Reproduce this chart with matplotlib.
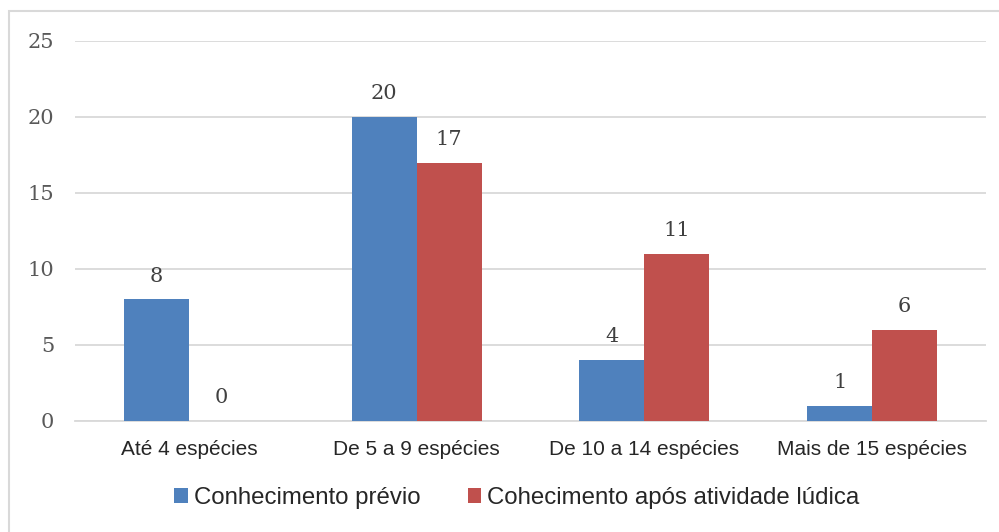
import numpy as np
import matplotlib
matplotlib.use("Agg")
import matplotlib.pyplot as plt
from matplotlib.patches import Rectangle

categorias = ["Até 4 espécies", "De 5 a 9 espécies", "De 10 a 14 espécies", "Mais de 15 espécies"]
previo = [8, 20, 4, 1]
apos = [0, 17, 11, 6]
series_nomes = ["Conhecimento prévio", "Cohecimento após atividade lúdica"]
y_ticks = [0, 5, 10, 15, 20, 25]

azul = "#4f81bd"
vermelho = "#c0504d"
cinza = "#d9d9d9"

fig = plt.figure(figsize=(9.99, 5.32), dpi=100)
ax = fig.add_axes([75 / 999, 111 / 532, 911 / 999, 380 / 532])

x = np.arange(len(categorias))
w = 0.285
b1 = ax.bar(x - w / 2, previo, w, color=azul, label=series_nomes[0], zorder=3)
b2 = ax.bar(x + w / 2, apos, w, color=vermelho, label=series_nomes[1], zorder=3)

# rotulos de dados
for barras in (b1, b2):
    for r in barras:
        v = r.get_height()
        ax.annotate("%d" % v, (r.get_x() + r.get_width() / 2, v), xytext=(0, 10),
                    textcoords="offset points", ha="center", va="bottom",
                    fontsize=15, family="DejaVu Serif", color="#404040")

ax.set_xlim(-0.5, 3.5)
ax.set_ylim(0, 25)
ax.set_yticks(y_ticks)
ax.set_xticks(x)
ax.set_xticklabels(categorias, fontsize=15, family="Liberation Sans", color="#262626")
for t in ax.get_yticklabels():
    t.set_fontsize(15)
    t.set_family("DejaVu Serif")
    t.set_color("#595959")
ax.tick_params(axis="both", length=0)
ax.tick_params(axis="y", pad=15)
ax.tick_params(axis="x", pad=14)
ax.yaxis.grid(True, color=cinza, linewidth=1.3, zorder=0)
for s in ["top", "right", "left"]:
    ax.spines[s].set_visible(False)
ax.spines["bottom"].set_color(cinza)
ax.spines["bottom"].set_linewidth(1.3)

leg = fig.legend(loc="center", bbox_to_anchor=(517 / 999, 1 - 498 / 532), ncol=2, frameon=False,
                 prop={"family": "Liberation Sans", "size": 17.3}, handlelength=0.55,
                 handleheight=0.55, handletextpad=0.25, columnspacing=2.0)
for t in leg.get_texts():
    t.set_color("#262626")

# borda da area do grafico
fig.patches.append(Rectangle((9 / 999, -10 / 532), 1000 / 999, 531 / 532, transform=fig.transFigure,
                             fill=False, edgecolor=cinza, linewidth=1.5))

fig.savefig("out.png", dpi=100)
